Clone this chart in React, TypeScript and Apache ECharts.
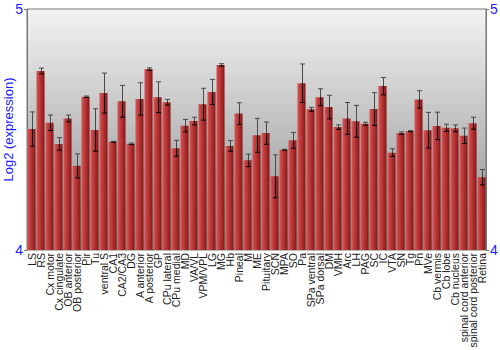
import React, { useEffect, useRef } from "react";
import * as echarts from "echarts";

const categories = [
  "LS", "RS", "Cx motor", "Cx cingulate", "OB anterior", "OB posterior", "Pir", "Tu",
  "ventral S", "CA1", "CA2/CA3", "DG", "A anterior", "A posterior", "GP", "CPu lateral",
  "CPu medial", "MD", "VA/VL", "VPM/VPL", "LG", "MG", "Hb", "Pineal", "M", "ME",
  "Pituitary", "SCN", "MPA", "SO", "Pa", "SPa ventral", "SPa dorsal", "DM", "VMH", "Arc",
  "LH", "PAG", "SC", "IC", "VTA", "SN", "Tg", "Pn", "MVe", "Cb vermis", "Cb lobe",
  "Cb nucleus", "spinal cord anterior", "spinal cord posterior", "Retina",
];

const means = [
  4.502, 4.743, 4.528, 4.440, 4.546, 4.349, 4.636, 4.498,
  4.651, 4.449, 4.617, 4.441, 4.627, 4.751, 4.634, 4.613,
  4.422, 4.516, 4.535, 4.605, 4.656, 4.768, 4.432, 4.566, 4.372, 4.476,
  4.485, 4.306, 4.416, 4.455, 4.692, 4.584, 4.634, 4.593, 4.510, 4.546,
  4.534, 4.524, 4.585, 4.680, 4.404, 4.485, 4.493, 4.625, 4.497, 4.515, 4.507,
  4.505, 4.474, 4.526, 4.302,
];

const errors = [
  0.071, 0.012, 0.032, 0.026, 0.014, 0.050, 0.003, 0.088,
  0.083, 0.002, 0.066, 0.003, 0.067, 0.005, 0.064, 0.012,
  0.033, 0.026, 0.016, 0.066, 0.052, 0.005, 0.022, 0.045, 0.026, 0.070,
  0.046, 0.089, 0.002, 0.033, 0.080, 0.008, 0.035, 0.049, 0.009, 0.066,
  0.066, 0.006, 0.068, 0.036, 0.016, 0.005, 0.002, 0.036, 0.074, 0.057, 0.015,
  0.014, 0.032, 0.025, 0.032,
];

const yTicks = { min: 4, max: 5, interval: 1 };

export default function App() {
  const ref = useRef<HTMLDivElement>(null);

  useEffect(() => {
    if (!ref.current) return;
    document.body.style.margin = "0";
    const chart = echarts.init(ref.current, null, { renderer: "svg" });

    const errData = means.map((m, i) => [i, m - errors[i], m + errors[i], m]);

    const barColor = new echarts.graphic.LinearGradient(0, 0, 1, 0, [
      { offset: 0, color: "#d45a5a" },
      { offset: 0.35, color: "#c23b3b" },
      { offset: 1, color: "#861818" },
    ]);

    const axisCommon = {
      type: "value",
      min: yTicks.min,
      max: yTicks.max,
      interval: yTicks.interval,
      splitLine: { show: false },
      axisLine: { show: true, lineStyle: { color: "#777", width: 1 } },
      axisTick: { show: true, length: 3, lineStyle: { color: "#777" } },
      axisLabel: {
        color: "#1a1aff",
        fontSize: 14,
        fontFamily: "Liberation Sans, Arial, sans-serif",
        margin: 4,
      },
    };

    chart.setOption({
      animation: false,
      backgroundColor: "#ffffff",
      grid: {
        left: 27,
        right: 14,
        top: 9,
        bottom: 100,
        containLabel: false,
        outerBoundsMode: "none",
        show: true,
        borderColor: "#777",
        borderWidth: 1,
        backgroundColor: {
          type: "linear",
          x: 0,
          y: 0,
          x2: 0,
          y2: 1,
          colorStops: [
            { offset: 0, color: "#f3f3f3" },
            { offset: 1, color: "#8a8a8a" },
          ],
        },
      },
      xAxis: {
        type: "category",
        data: categories,
        axisLine: { show: false },
        axisTick: { show: false },
        axisLabel: {
          rotate: 90,
          interval: 0,
          margin: 3,
          color: "#222",
          fontSize: 10.5,
          fontFamily: "Liberation Sans, Arial, sans-serif",
        },
      },
      yAxis: [
        {
          ...axisCommon,
          position: "left",
          name: "Log2 (expression)",
          nameLocation: "middle",
          nameRotate: 90,
          nameGap: 12,
          nameMoveOverlap: false,
          nameTextStyle: {
            color: "#1a1aff",
            fontSize: 13,
            fontFamily: "Liberation Sans, Arial, sans-serif",
          },
        },
        { ...axisCommon, position: "right" },
      ],
      series: [
        {
          type: "bar",
          data: means,
          barCategoryGap: "10%",
          itemStyle: { color: barColor },
          z: 2,
        },
        {
          type: "custom",
          data: errData,
          z: 3,
          renderItem: (params: any, api: any) => {
            const idx = api.value(0);
            const lo = api.coord([idx, api.value(1)]);
            const hi = api.coord([idx, api.value(2)]);
            const mid = api.coord([idx, api.value(3)]);
            const x = Math.round(lo[0]) + 0.5;
            const cap = 2.5;
            const upper = { stroke: "#4a4a4a", lineWidth: 1 };
            const lower = { stroke: "#000", lineWidth: 1 };
            return {
              type: "group",
              children: [
                { type: "line", shape: { x1: x, y1: hi[1], x2: x, y2: mid[1] }, style: upper },
                { type: "line", shape: { x1: x, y1: mid[1], x2: x, y2: lo[1] }, style: lower },
                { type: "line", shape: { x1: x - cap, y1: hi[1], x2: x + cap, y2: hi[1] }, style: upper },
                { type: "line", shape: { x1: x - cap, y1: lo[1], x2: x + cap, y2: lo[1] }, style: lower },
              ],
            };
          },
        },
      ],
    });

    return () => chart.dispose();
  }, []);

  return <div ref={ref} style={{ width: 500, height: 350 }} />;
}
